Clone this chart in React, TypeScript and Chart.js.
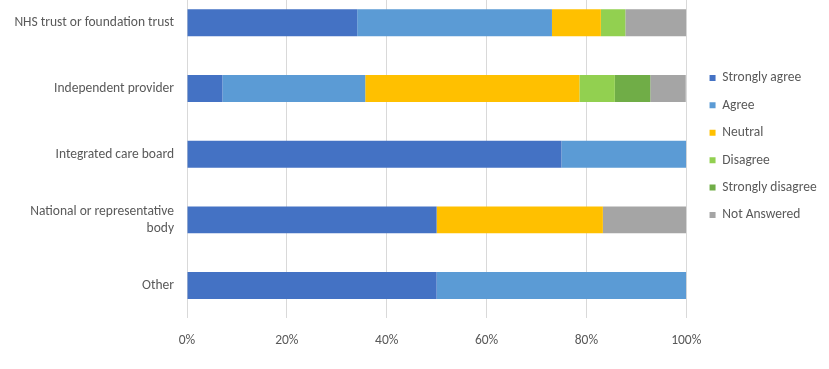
import React, { useEffect, useRef } from "react";
import { Chart, registerables } from "chart.js";

Chart.register(...registerables);

const categories: (string | string[])[] = [
  "NHS trust or foundation trust",
  "Independent provider",
  "Integrated care board",
  ["National or representative", "body"],
  "Other",
];

const seriesNames = [
  "Strongly agree",
  "Agree",
  "Neutral",
  "Disagree",
  "Strongly disagree",
  "Not Answered",
];

const stronglyAgree = [34.1, 7.1, 75, 50, 50];
const agree = [39.0, 28.6, 25, 0, 50];
const neutral = [9.8, 42.9, 0, 33.3, 0];
const disagree = [4.9, 7.1, 0, 0, 0];
const stronglyDisagree = [0, 7.1, 0, 0, 0];
const notAnswered = [12.2, 7.1, 0, 16.7, 0];

const xTickValues = [0, 20, 40, 60, 80, 100];

const seriesColors = ["#4472C4", "#5B9BD5", "#FFC000", "#92D050", "#70AD47", "#A5A5A5"];

const FONT = "Carlito, Calibri, Lato, 'Noto Sans', sans-serif";
const TEXT = "#595959";
const FS = 13.5;

export default function App() {
  const ref = useRef<HTMLCanvasElement | null>(null);

  useEffect(() => {
    if (!ref.current) return;
    const seriesValues = [stronglyAgree, agree, neutral, disagree, stronglyDisagree, notAnswered];
    const chart = new Chart(ref.current, {
      type: "bar",
      data: {
        labels: categories,
        datasets: seriesNames.map((name, i) => ({
          label: name,
          data: seriesValues[i],
          backgroundColor: seriesColors[i],
          borderWidth: 0,
          barPercentage: 0.41,
          categoryPercentage: 1,
        })),
      },
      options: {
        indexAxis: "y",
        animation: false,
        responsive: true,
        maintainAspectRatio: false,
        layout: { padding: { left: 0, right: 2.4, top: 0, bottom: 6.65 } },
        plugins: {
          tooltip: { enabled: false },
          legend: {
            position: "right",
            align: "start",
            fullSize: false,
            title: {
              display: true,
              text: "",
              padding: { top: 52.9, bottom: 0 },
              font: { size: 12, family: FONT, lineHeight: 1.2 },
            },
            labels: {
              boxWidth: 6,
              boxHeight: 6,
              padding: 13.9,
              color: TEXT,
              font: { size: FS, family: FONT },
            },
          },
        },
        scales: {
          x: {
            type: "linear",
            stacked: true,
            min: 0,
            max: 100,
            position: "bottom",
            grid: { color: "#D9D9D9", lineWidth: 1, drawTicks: false },
            border: { display: false },
            afterBuildTicks: (scale: any) => {
              scale.ticks = xTickValues.map((v) => ({ value: v }));
            },
            ticks: {
              padding: 13.9,
              color: TEXT,
              font: { size: FS, family: FONT, lineHeight: 1.2 },
              callback: (v: any) => v + "%",
            },
          },
          y: {
            type: "category",
            stacked: true,
            grid: { display: false, drawTicks: false },
            border: { display: false },
            afterFit: (scale: any) => {
              scale.width = 187;
              scale.paddingTop = 0;
              scale.paddingBottom = 0;
            },
            ticks: {
              padding: 13,
              color: TEXT,
              font: { size: FS, family: FONT, lineHeight: 1.23 },
            },
          },
          gap: {
            type: "linear",
            axis: "y",
            position: "right",
            display: true,
            grid: { display: false, drawTicks: false },
            border: { display: false },
            ticks: { display: false },
            afterFit: (scale: any) => {
              scale.width = 9.4;
              scale.paddingTop = 0;
              scale.paddingBottom = 0;
            },
          },
        },
      } as any,
    });
    return () => chart.destroy();
  }, []);

  return (
    <div style={{ position: "fixed", left: 0, top: -10, width: 829, height: 379 }}>
      <canvas ref={ref} />
    </div>
  );
}
